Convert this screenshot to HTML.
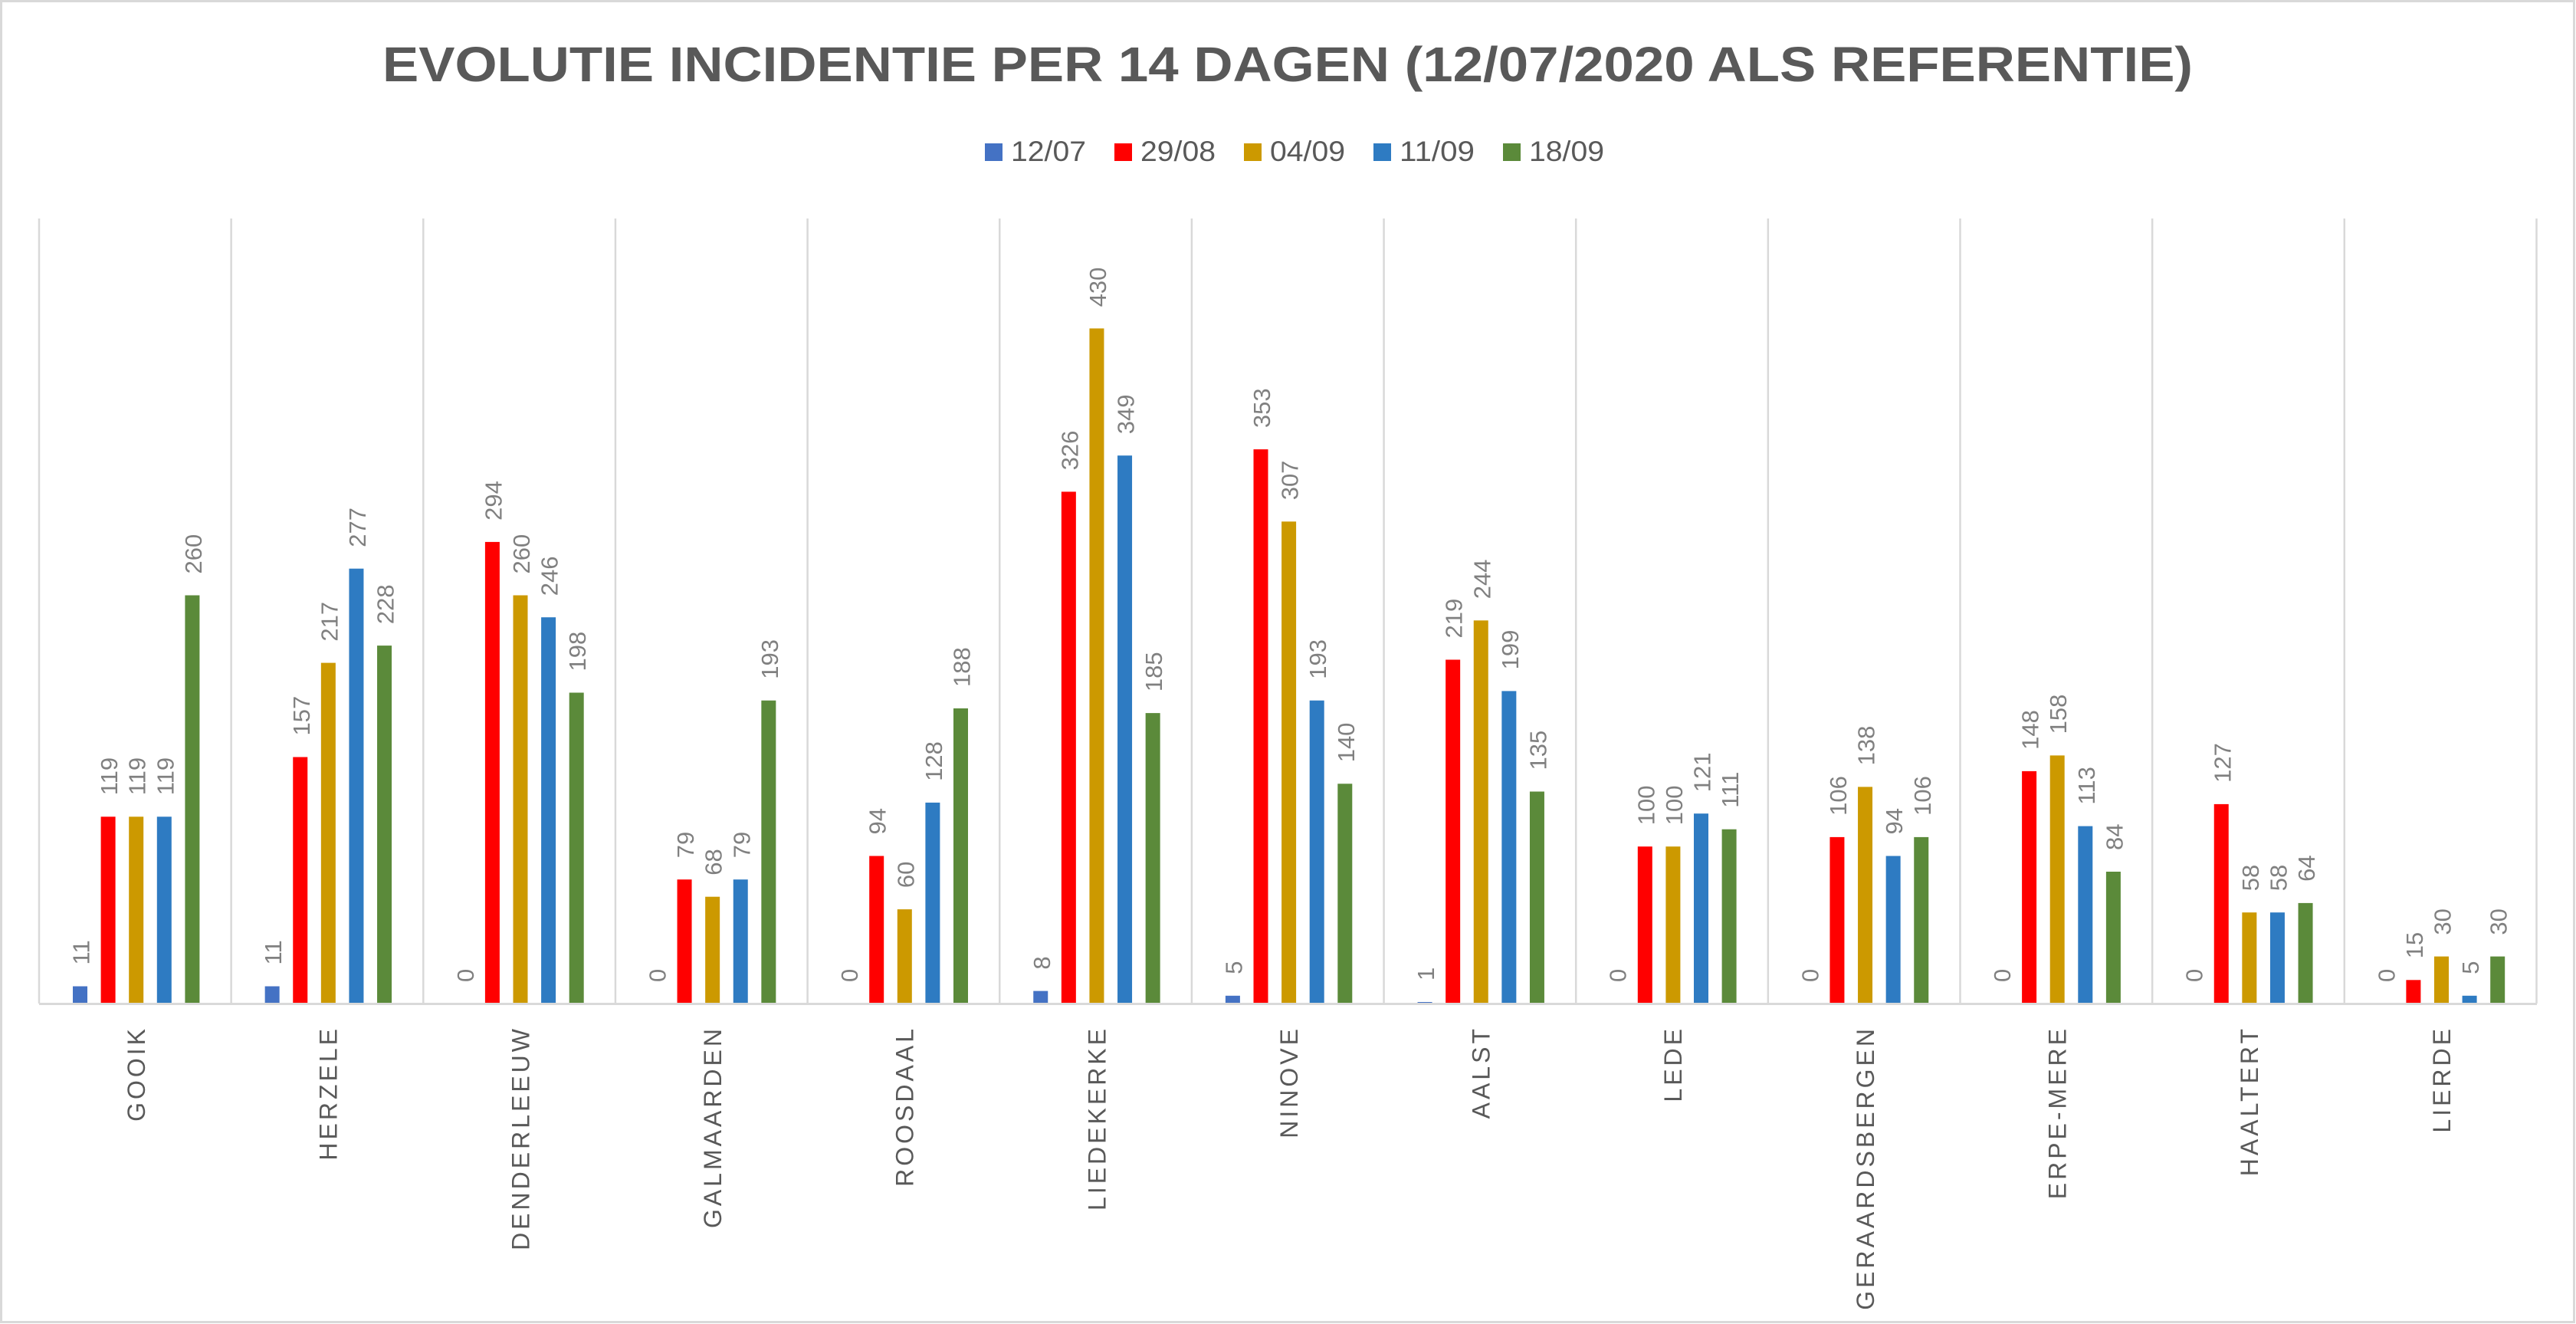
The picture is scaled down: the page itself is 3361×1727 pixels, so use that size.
<!DOCTYPE html>
<html><head><meta charset="utf-8"><style>
html,body{margin:0;padding:0;background:#fff}
svg{display:block}
.d{font-family:"Liberation Sans",sans-serif;font-size:31px;fill:#808080}
.c{font-family:"Liberation Sans",sans-serif;font-size:32px;fill:#595959;letter-spacing:4px;text-anchor:end}
</style></head><body>
<svg width="3361" height="1727" viewBox="0 0 3361 1727" xmlns="http://www.w3.org/2000/svg">
<rect x="1.5" y="1.5" width="3357" height="1723" fill="#fff" stroke="#d9d9d9" stroke-width="3"/>
<text x="1680" y="106" text-anchor="middle" textLength="2362" lengthAdjust="spacingAndGlyphs" font-family="'Liberation Sans',sans-serif" font-weight="bold" font-size="64" fill="#595959">EVOLUTIE INCIDENTIE PER 14 DAGEN (12/07/2020 ALS REFERENTIE)</text>
<g font-family="'Liberation Sans',sans-serif" font-size="37" fill="#595959">
<rect x="1285" y="187" width="23" height="23" fill="#4472C4"/><text x="1319" y="210" textLength="98" lengthAdjust="spacingAndGlyphs">12/07</text>
<rect x="1454" y="187" width="23" height="23" fill="#FF0000"/><text x="1488" y="210" textLength="98" lengthAdjust="spacingAndGlyphs">29/08</text>
<rect x="1623" y="187" width="23" height="23" fill="#CC9900"/><text x="1657" y="210" textLength="98" lengthAdjust="spacingAndGlyphs">04/09</text>
<rect x="1792" y="187" width="23" height="23" fill="#2E7BC2"/><text x="1826" y="210" textLength="98" lengthAdjust="spacingAndGlyphs">11/09</text>
<rect x="1961" y="187" width="23" height="23" fill="#5B8A3A"/><text x="1995" y="210" textLength="98" lengthAdjust="spacingAndGlyphs">18/09</text>
</g>
<g stroke="#d9d9d9" stroke-width="2.5">
<line x1="51" y1="285" x2="51" y2="1309"/><line x1="301.65" y1="285" x2="301.65" y2="1309"/><line x1="552.3" y1="285" x2="552.3" y2="1309"/><line x1="802.95" y1="285" x2="802.95" y2="1309"/><line x1="1053.6" y1="285" x2="1053.6" y2="1309"/><line x1="1304.25" y1="285" x2="1304.25" y2="1309"/><line x1="1554.9" y1="285" x2="1554.9" y2="1309"/><line x1="1805.55" y1="285" x2="1805.55" y2="1309"/><line x1="2056.2" y1="285" x2="2056.2" y2="1309"/><line x1="2306.85" y1="285" x2="2306.85" y2="1309"/><line x1="2557.5" y1="285" x2="2557.5" y2="1309"/><line x1="2808.15" y1="285" x2="2808.15" y2="1309"/><line x1="3058.8" y1="285" x2="3058.8" y2="1309"/><line x1="3309.5" y1="285" x2="3309.5" y2="1309"/>
</g>

<g transform="translate(51,1309)">
<rect x="44" y="-22.5" width="19" height="22.5" fill="#4472C4"/><rect x="80.6" y="-243.7" width="19" height="243.7" fill="#FF0000"/><rect x="117.2" y="-243.7" width="19" height="243.7" fill="#CC9900"/><rect x="153.8" y="-243.7" width="19" height="243.7" fill="#2E7BC2"/><rect x="190.4" y="-532.5" width="19" height="532.5" fill="#5B8A3A"/>
<text class="d" transform="translate(65.5,-50.5) rotate(-90)">11</text><text class="d" transform="translate(102.1,-271.7) rotate(-90)">119</text><text class="d" transform="translate(138.7,-271.7) rotate(-90)">119</text><text class="d" transform="translate(175.3,-271.7) rotate(-90)">119</text><text class="d" transform="translate(211.9,-560.5) rotate(-90)">260</text>
<text class="c" transform="translate(138,29) rotate(-90)">GOOIK</text>
</g>
<g transform="translate(301.65,1309)">
<rect x="44" y="-22.5" width="19" height="22.5" fill="#4472C4"/><rect x="80.6" y="-321.5" width="19" height="321.5" fill="#FF0000"/><rect x="117.2" y="-444.4" width="19" height="444.4" fill="#CC9900"/><rect x="153.8" y="-567.3" width="19" height="567.3" fill="#2E7BC2"/><rect x="190.4" y="-466.9" width="19" height="466.9" fill="#5B8A3A"/>
<text class="d" transform="translate(65.5,-50.5) rotate(-90)">11</text><text class="d" transform="translate(102.1,-349.5) rotate(-90)">157</text><text class="d" transform="translate(138.7,-472.4) rotate(-90)">217</text><text class="d" transform="translate(175.3,-595.3) rotate(-90)">277</text><text class="d" transform="translate(211.9,-494.9) rotate(-90)">228</text>
<text class="c" transform="translate(138,29) rotate(-90)">HERZELE</text>
</g>
<g transform="translate(552.3,1309)">
<rect x="80.6" y="-602.1" width="19" height="602.1" fill="#FF0000"/><rect x="117.2" y="-532.5" width="19" height="532.5" fill="#CC9900"/><rect x="153.8" y="-503.8" width="19" height="503.8" fill="#2E7BC2"/><rect x="190.4" y="-405.5" width="19" height="405.5" fill="#5B8A3A"/>
<text class="d" transform="translate(65.5,-28) rotate(-90)">0</text><text class="d" transform="translate(102.1,-630.1) rotate(-90)">294</text><text class="d" transform="translate(138.7,-560.5) rotate(-90)">260</text><text class="d" transform="translate(175.3,-531.8) rotate(-90)">246</text><text class="d" transform="translate(211.9,-433.5) rotate(-90)">198</text>
<text class="c" transform="translate(138,29) rotate(-90)">DENDERLEEUW</text>
</g>
<g transform="translate(802.95,1309)">
<rect x="80.6" y="-161.8" width="19" height="161.8" fill="#FF0000"/><rect x="117.2" y="-139.3" width="19" height="139.3" fill="#CC9900"/><rect x="153.8" y="-161.8" width="19" height="161.8" fill="#2E7BC2"/><rect x="190.4" y="-395.3" width="19" height="395.3" fill="#5B8A3A"/>
<text class="d" transform="translate(65.5,-28) rotate(-90)">0</text><text class="d" transform="translate(102.1,-189.8) rotate(-90)">79</text><text class="d" transform="translate(138.7,-167.3) rotate(-90)">68</text><text class="d" transform="translate(175.3,-189.8) rotate(-90)">79</text><text class="d" transform="translate(211.9,-423.3) rotate(-90)">193</text>
<text class="c" transform="translate(138,29) rotate(-90)">GALMAARDEN</text>
</g>
<g transform="translate(1053.6,1309)">
<rect x="80.6" y="-192.5" width="19" height="192.5" fill="#FF0000"/><rect x="117.2" y="-122.9" width="19" height="122.9" fill="#CC9900"/><rect x="153.8" y="-262.1" width="19" height="262.1" fill="#2E7BC2"/><rect x="190.4" y="-385" width="19" height="385" fill="#5B8A3A"/>
<text class="d" transform="translate(65.5,-28) rotate(-90)">0</text><text class="d" transform="translate(102.1,-220.5) rotate(-90)">94</text><text class="d" transform="translate(138.7,-150.9) rotate(-90)">60</text><text class="d" transform="translate(175.3,-290.1) rotate(-90)">128</text><text class="d" transform="translate(211.9,-413) rotate(-90)">188</text>
<text class="c" transform="translate(138,29) rotate(-90)">ROOSDAAL</text>
</g>
<g transform="translate(1304.25,1309)">
<rect x="44" y="-16.4" width="19" height="16.4" fill="#4472C4"/><rect x="80.6" y="-667.6" width="19" height="667.6" fill="#FF0000"/><rect x="117.2" y="-880.6" width="19" height="880.6" fill="#CC9900"/><rect x="153.8" y="-714.8" width="19" height="714.8" fill="#2E7BC2"/><rect x="190.4" y="-378.9" width="19" height="378.9" fill="#5B8A3A"/>
<text class="d" transform="translate(65.5,-44.4) rotate(-90)">8</text><text class="d" transform="translate(102.1,-695.6) rotate(-90)">326</text><text class="d" transform="translate(138.7,-908.6) rotate(-90)">430</text><text class="d" transform="translate(175.3,-742.8) rotate(-90)">349</text><text class="d" transform="translate(211.9,-406.9) rotate(-90)">185</text>
<text class="c" transform="translate(138,29) rotate(-90)">LIEDEKERKE</text>
</g>
<g transform="translate(1554.9,1309)">
<rect x="44" y="-10.2" width="19" height="10.2" fill="#4472C4"/><rect x="80.6" y="-722.9" width="19" height="722.9" fill="#FF0000"/><rect x="117.2" y="-628.7" width="19" height="628.7" fill="#CC9900"/><rect x="153.8" y="-395.3" width="19" height="395.3" fill="#2E7BC2"/><rect x="190.4" y="-286.7" width="19" height="286.7" fill="#5B8A3A"/>
<text class="d" transform="translate(65.5,-38.2) rotate(-90)">5</text><text class="d" transform="translate(102.1,-750.9) rotate(-90)">353</text><text class="d" transform="translate(138.7,-656.7) rotate(-90)">307</text><text class="d" transform="translate(175.3,-423.3) rotate(-90)">193</text><text class="d" transform="translate(211.9,-314.7) rotate(-90)">140</text>
<text class="c" transform="translate(138,29) rotate(-90)">NINOVE</text>
</g>
<g transform="translate(1805.55,1309)">
<rect x="44" y="-2" width="19" height="2" fill="#4472C4"/><rect x="80.6" y="-448.5" width="19" height="448.5" fill="#FF0000"/><rect x="117.2" y="-499.7" width="19" height="499.7" fill="#CC9900"/><rect x="153.8" y="-407.6" width="19" height="407.6" fill="#2E7BC2"/><rect x="190.4" y="-276.5" width="19" height="276.5" fill="#5B8A3A"/>
<text class="d" transform="translate(65.5,-30) rotate(-90)">1</text><text class="d" transform="translate(102.1,-476.5) rotate(-90)">219</text><text class="d" transform="translate(138.7,-527.7) rotate(-90)">244</text><text class="d" transform="translate(175.3,-435.6) rotate(-90)">199</text><text class="d" transform="translate(211.9,-304.5) rotate(-90)">135</text>
<text class="c" transform="translate(138,29) rotate(-90)">AALST</text>
</g>
<g transform="translate(2056.2,1309)">
<rect x="80.6" y="-204.8" width="19" height="204.8" fill="#FF0000"/><rect x="117.2" y="-204.8" width="19" height="204.8" fill="#CC9900"/><rect x="153.8" y="-247.8" width="19" height="247.8" fill="#2E7BC2"/><rect x="190.4" y="-227.3" width="19" height="227.3" fill="#5B8A3A"/>
<text class="d" transform="translate(65.5,-28) rotate(-90)">0</text><text class="d" transform="translate(102.1,-232.8) rotate(-90)">100</text><text class="d" transform="translate(138.7,-232.8) rotate(-90)">100</text><text class="d" transform="translate(175.3,-275.8) rotate(-90)">121</text><text class="d" transform="translate(211.9,-255.3) rotate(-90)">111</text>
<text class="c" transform="translate(138,29) rotate(-90)">LEDE</text>
</g>
<g transform="translate(2306.85,1309)">
<rect x="80.6" y="-217.1" width="19" height="217.1" fill="#FF0000"/><rect x="117.2" y="-282.6" width="19" height="282.6" fill="#CC9900"/><rect x="153.8" y="-192.5" width="19" height="192.5" fill="#2E7BC2"/><rect x="190.4" y="-217.1" width="19" height="217.1" fill="#5B8A3A"/>
<text class="d" transform="translate(65.5,-28) rotate(-90)">0</text><text class="d" transform="translate(102.1,-245.1) rotate(-90)">106</text><text class="d" transform="translate(138.7,-310.6) rotate(-90)">138</text><text class="d" transform="translate(175.3,-220.5) rotate(-90)">94</text><text class="d" transform="translate(211.9,-245.1) rotate(-90)">106</text>
<text class="c" transform="translate(138,29) rotate(-90)">GERAARDSBERGEN</text>
</g>
<g transform="translate(2557.5,1309)">
<rect x="80.6" y="-303.1" width="19" height="303.1" fill="#FF0000"/><rect x="117.2" y="-323.6" width="19" height="323.6" fill="#CC9900"/><rect x="153.8" y="-231.4" width="19" height="231.4" fill="#2E7BC2"/><rect x="190.4" y="-172" width="19" height="172" fill="#5B8A3A"/>
<text class="d" transform="translate(65.5,-28) rotate(-90)">0</text><text class="d" transform="translate(102.1,-331.1) rotate(-90)">148</text><text class="d" transform="translate(138.7,-351.6) rotate(-90)">158</text><text class="d" transform="translate(175.3,-259.4) rotate(-90)">113</text><text class="d" transform="translate(211.9,-200) rotate(-90)">84</text>
<text class="c" transform="translate(138,29) rotate(-90)">ERPE-MERE</text>
</g>
<g transform="translate(2808.15,1309)">
<rect x="80.6" y="-260.1" width="19" height="260.1" fill="#FF0000"/><rect x="117.2" y="-118.8" width="19" height="118.8" fill="#CC9900"/><rect x="153.8" y="-118.8" width="19" height="118.8" fill="#2E7BC2"/><rect x="190.4" y="-131.1" width="19" height="131.1" fill="#5B8A3A"/>
<text class="d" transform="translate(65.5,-28) rotate(-90)">0</text><text class="d" transform="translate(102.1,-288.1) rotate(-90)">127</text><text class="d" transform="translate(138.7,-146.8) rotate(-90)">58</text><text class="d" transform="translate(175.3,-146.8) rotate(-90)">58</text><text class="d" transform="translate(211.9,-159.1) rotate(-90)">64</text>
<text class="c" transform="translate(138,29) rotate(-90)">HAALTERT</text>
</g>
<g transform="translate(3058.8,1309)">
<rect x="80.6" y="-30.7" width="19" height="30.7" fill="#FF0000"/><rect x="117.2" y="-61.4" width="19" height="61.4" fill="#CC9900"/><rect x="153.8" y="-10.2" width="19" height="10.2" fill="#2E7BC2"/><rect x="190.4" y="-61.4" width="19" height="61.4" fill="#5B8A3A"/>
<text class="d" transform="translate(65.5,-28) rotate(-90)">0</text><text class="d" transform="translate(102.1,-58.7) rotate(-90)">15</text><text class="d" transform="translate(138.7,-89.4) rotate(-90)">30</text><text class="d" transform="translate(175.3,-38.2) rotate(-90)">5</text><text class="d" transform="translate(211.9,-89.4) rotate(-90)">30</text>
<text class="c" transform="translate(138,29) rotate(-90)">LIERDE</text>
</g>
<line x1="51" y1="1309.5" x2="3310" y2="1309.5" stroke="#d9d9d9" stroke-width="3"/>
</svg>
</body></html>
